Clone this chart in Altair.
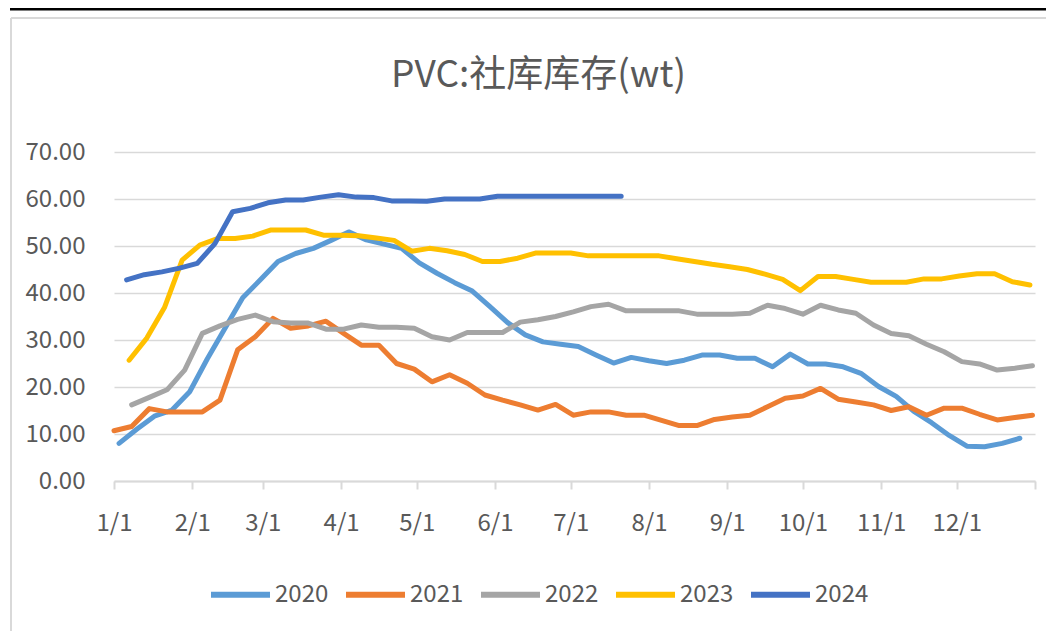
import datetime as dt
import altair as alt
import pandas as pd

# ---------------- data (weekly readings, wt) ----------------
years = ["2020", "2021", "2022", "2023", "2024"]
colors = ["#5B9BD5", "#ED7D31", "#A5A5A5", "#FFC000", "#4472C4"]

# first weekly date of each series, as day of year offset (reference year 2021)
start_day = {"2020": 2, "2021": 0, "2022": 7, "2023": 6, "2024": 5}

v2020 = [8.0, 11.0, 13.8, 15.1, 19.0, 26.0, 32.5, 39.0, 42.8, 46.7,
         48.4, 49.5, 51.2, 53.0, 51.3, 50.4, 49.5, 46.4, 44.2, 42.2,
         40.4, 37.1, 33.7, 31.1, 29.6, 29.1, 28.6, 26.8, 25.1, 26.3,
         25.6, 25.0, 25.7, 26.8, 26.8, 26.1, 26.1, 24.3, 27.0, 24.9,
         24.9, 24.3, 22.9, 20.1, 18.0, 14.8, 12.4, 9.7, 7.4, 7.3,
         8.0, 9.1]
v2021 = [10.7, 11.6, 15.4, 14.7, 14.7, 14.7, 17.2, 27.9, 30.7, 34.6,
         32.5, 33.0, 34.0, 31.4, 28.9, 28.9, 25.0, 23.8, 21.1, 22.6,
         20.8, 18.3, 17.2, 16.2, 15.1, 16.3, 14.0, 14.7, 14.7, 14.0,
         14.0, 12.9, 11.8, 11.8, 13.1, 13.6, 14.0, 15.8, 17.6, 18.1,
         19.7, 17.4, 16.8, 16.2, 15.0, 15.8, 14.0, 15.5, 15.5, 14.2,
         13.0, 13.5, 14.0]
v2022 = [16.2, 17.8, 19.4, 23.6, 31.4, 33.0, 34.4, 35.3, 33.9, 33.6,
         33.6, 32.3, 32.3, 33.2, 32.7, 32.7, 32.5, 30.7, 30.0, 31.6,
         31.6, 31.6, 33.8, 34.3, 35.0, 36.0, 37.1, 37.6, 36.2, 36.2,
         36.2, 36.2, 35.5, 35.5, 35.5, 35.7, 37.4, 36.7, 35.5, 37.4,
         36.4, 35.7, 33.2, 31.4, 30.9, 29.1, 27.5, 25.4, 24.9, 23.6,
         24.0, 24.5]
v2023 = [25.7, 30.4, 36.9, 47.0, 50.2, 51.6, 51.6, 52.1, 53.4, 53.4,
         53.4, 52.3, 52.3, 52.2, 51.7, 51.2, 48.9, 49.5, 49.0, 48.2,
         46.7, 46.7, 47.4, 48.5, 48.5, 48.5, 47.9, 47.9, 47.9, 47.9,
         47.9, 47.3, 46.7, 46.1, 45.6, 45.0, 44.0, 42.9, 40.5, 43.5,
         43.5, 42.9, 42.3, 42.3, 42.3, 43.0, 43.0, 43.6, 44.1, 44.1,
         42.4, 41.7]
v2024 = [42.8, 43.9, 44.5, 45.3, 46.3, 50.5, 57.3, 58.0, 59.2, 59.8,
         59.8, 60.4, 60.9, 60.4, 60.3, 59.6, 59.6, 59.5, 60.0, 60.0,
         60.0, 60.6, 60.6, 60.6, 60.6, 60.6, 60.6, 60.6, 60.6]

values = {"2020": v2020, "2021": v2021, "2022": v2022, "2023": v2023, "2024": v2024}

y_ticks = [0, 10, 20, 30, 40, 50, 60, 70]
month_ticks = list(range(1, 13))

# ---------------- table ----------------
base = dt.date(2021, 1, 1)
rows = []
for yr in years:
    for i, v in enumerate(values[yr]):
        d = base + dt.timedelta(days=start_day[yr] + 7 * i)
        rows.append({"date": d.isoformat(), "value": v, "year": yr})
df = pd.DataFrame(rows)

LBL_FONT = "Noto Sans CJK SC"
GREY_TXT = "#595959"
GRID = "#D9D9D9"

x_vals = [alt.DateTime(year=2021, month=m, date=1, utc=True) for m in month_ticks]
x_vals.append(alt.DateTime(year=2022, month=1, date=1, utc=True))

lines = alt.Chart(df).mark_line(
    strokeWidth=5, strokeCap="round", strokeJoin="round"
).encode(
    x=alt.X(
        "date:T",
        scale=alt.Scale(
            type="utc",
            domain=[alt.DateTime(year=2021, month=1, date=1, utc=True),
                    alt.DateTime(year=2022, month=1, date=1, utc=True)],
            nice=False,
        ),
        axis=alt.Axis(
            title=None, grid=False, values=x_vals,
            labelExpr="utcyear(datum.value) > 2021 ? '' : utcFormat(datum.value, '%-m/%-d')",
            domainColor=GRID, domainWidth=2, tickColor=GRID, tickWidth=2, tickSize=8,
            labelFont=LBL_FONT, labelFontSize=24, labelColor=GREY_TXT, labelPadding=22,
            labelFlush=False, labelOverlap=False,
        ),
    ),
    y=alt.Y(
        "value:Q",
        scale=alt.Scale(domain=[0, 70], nice=False),
        axis=alt.Axis(
            title=None, values=y_ticks, format=".2f", domain=False, ticks=False,
            gridColor=GRID, gridWidth=1.5,
            labelFont=LBL_FONT, labelFontSize=24, labelColor=GREY_TXT, labelPadding=29,
        ),
    ),
    color=alt.Color(
        "year:N",
        scale=alt.Scale(domain=years, range=colors),
        legend=alt.Legend(
            title=None, orient="none", direction="horizontal",
            legendX=94, legendY=410,
            symbolType="stroke", symbolSize=3481, symbolStrokeWidth=6,
            labelFont=LBL_FONT, labelFontSize=24, labelColor=GREY_TXT,
            labelOffset=2, columnPadding=5,
        ),
    ),
)

# chart frame decorations (outer border lines of the original screenshot)
frame_df = pd.DataFrame({"k": [0]})
black_bar = alt.Chart(frame_df).mark_rule(color="black", strokeWidth=3).encode(
    x=alt.value(-104), x2=alt.value(932), y=alt.value(-143)
)
frame_top = alt.Chart(frame_df).mark_rule(color=GRID, strokeWidth=2).encode(
    x=alt.value(-103), x2=alt.value(932), y=alt.value(-134)
)
frame_left = alt.Chart(frame_df).mark_rule(color=GRID, strokeWidth=2).encode(
    x=alt.value(-103), y=alt.value(-134), y2=alt.value(480)
)

chart = alt.layer(black_bar, frame_top, frame_left, lines).properties(
    width=921,
    height=329,
    padding={"left": 106, "top": 144, "right": 11, "bottom": 150},
    autosize=alt.AutoSizeParams(type="none"),
    title=alt.TitleParams(
        "PVC:社库库存(wt)", font="Noto Sans CJK SC", fontSize=37, fontWeight="normal",
        color=GREY_TXT, anchor="middle", dx=-36, offset=0, dy=116, baseline="alphabetic",
    ),
).configure_view(stroke=None)

chart.save("out.html", embed_options={"renderer": "svg", "actions": False})
